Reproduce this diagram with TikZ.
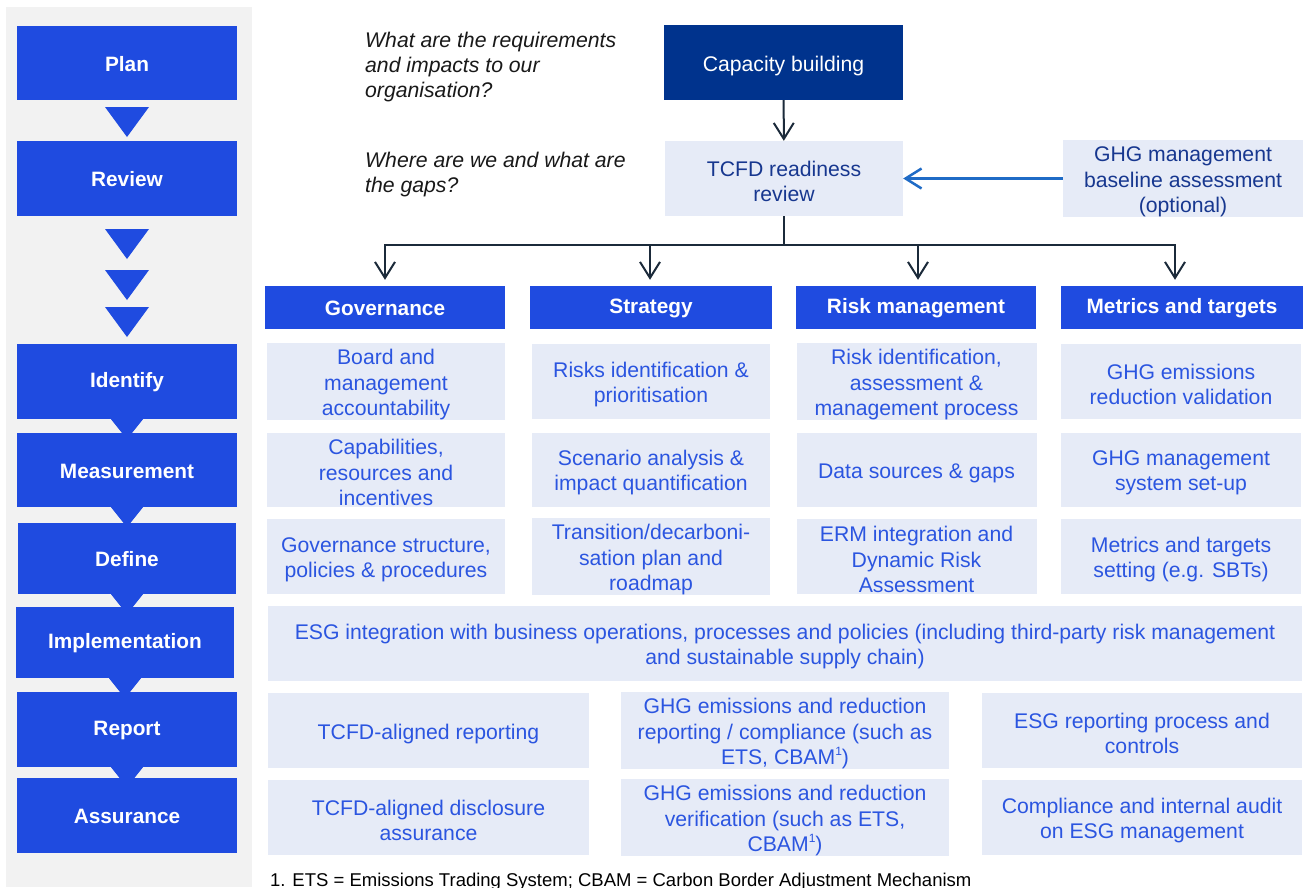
\documentclass[tikz,border=0pt]{standalone}
\usepackage{fontspec}
\setmainfont{Liberation Sans}
\usetikzlibrary{arrows.meta}
\definecolor{cBlue}{HTML}{1F4BE0}
\definecolor{cLight}{HTML}{E6EBF7}
\definecolor{cText}{HTML}{2B55E0}
\definecolor{cNavyText}{HTML}{17378F}
\definecolor{cCap}{HTML}{00338D}
\definecolor{cGrey}{HTML}{F2F2F2}
\definecolor{cConn}{HTML}{1B2A3A}
\definecolor{cArrowBlue}{HTML}{1F6BC6}
\newcommand{\supone}{\raisebox{0.42em}{\fontsize{12}{12}\selectfont 1}}
\newcommand{\tstrut}{\rule{0pt}{21.5pt}}
\begin{document}
\begin{tikzpicture}[x=1pt,y=-1pt,
  wh/.style 2 args={minimum width=#1, minimum height=#2},
  bluebox/.style={fill=cBlue, text=white, font=\fontsize{20.8}{25}\selectfont\bfseries, inner sep=0pt, align=center,
    execute at begin node={\rule{0pt}{17pt}}},
  lbox/.style={fill=cLight, text=cText, font=\fontsize{21.2}{25.4}\selectfont, inner sep=0pt, align=center},
  tbox/.style={lbox, text=cNavyText},
  capbox/.style={lbox, fill=cCap, text=white},
  qtext/.style={text=black!90, font=\fontsize{21.2}{25}\selectfont\itshape, inner sep=0pt, align=left, anchor=west},
  conn/.style={draw=cConn, line width=2pt},
  tip/.style={-{Straight Barb[length=16pt,width=20pt,line width=2pt]}},
  bluearrow/.style={draw=cArrowBlue, line width=2.5pt, -{Straight Barb[length=16pt,width=20pt,line width=2.5pt]}},
  tri/.style={fill=cBlue}
]
\useasboundingbox (0,0) rectangle (1310,887);
\fill[white] (0,0) rectangle (1310,887);
% left panel
\fill[cGrey] (6,7) rectangle (252,887);
\node[bluebox, wh={220}{74}] (plan) at (127,63) {Plan};
\node[bluebox, wh={220}{75}] (review) at (127,178.5) {Review};
\fill[tri] (105,107) -- (149,107) -- (127,137) -- cycle;
\fill[tri] (105,229) -- (149,229) -- (127,259) -- cycle;
\fill[tri] (105,270) -- (149,270) -- (127,300) -- cycle;
\fill[tri] (105,307) -- (149,307) -- (127,337) -- cycle;
\node[bluebox, wh={220}{75}] (identify) at (127,381.5) {Identify};
\node[bluebox, wh={220}{74}] (measure) at (127,470) {Measurement};
\node[bluebox, wh={218}{71}] (define) at (127,558.5) {Define};
\node[bluebox, wh={218}{71}] (implement) at (125,642.5) {Implementation};
\node[bluebox, wh={220}{75}] (report) at (127,729.5) {Report};
\node[bluebox, wh={220}{75}] (assure) at (127,815.5) {Assurance};
\foreach \b in {identify,measure,define,implement,report}{
  \fill[tri] ([xshift=-16pt]\b.south) -- ([xshift=16pt]\b.south) -- ([yshift=-20pt]\b.south) -- cycle;
}
% questions
\node[qtext] (q1) at (365,67) {What are the requirements\\and impacts to our\\organisation?};
\node[qtext] (q2) at (365,174.5) {Where are we and what are\\the gaps?};
% top
\node[capbox, wh={239}{75}] (cap) at (783.5,62.5) {\tstrut Capacity building};
\node[tbox, wh={238}{75}] (tcfd) at (784,178.5) {\tstrut TCFD readiness\\review};
\node[tbox, wh={240}{75}] (ghgb) at (1183,178.5) {\tstrut GHG management\\baseline assessment\\(optional)};
\draw[conn, tip] (cap) -- (tcfd);
\draw[bluearrow] (ghgb) -- (tcfd);
% headers
\node[bluebox, wh={240}{43}] (gov) at (385,307.5) {Governance};
\node[bluebox, wh={242}{43}] (strat) at (651,307.5) {Strategy};
\node[bluebox, wh={240}{43}] (risk) at (916,307.5) {Risk management};
\node[bluebox, wh={242}{43}] (met) at (1182,307.5) {Metrics and targets};
\coordinate (ja) at (385,245);
\coordinate (jb) at (650,245);
\coordinate (jc) at (918,245);
\coordinate (jd) at (1175,245);
\draw[conn] (tcfd.south) -- (tcfd.south |- ja);
\draw[conn, line cap=rect] (ja) -- (jd);
\draw[conn, tip, shorten >=6pt] (ja) -- (ja |- gov.north);
\draw[conn, tip, shorten >=6pt] (jb) -- (jb |- strat.north);
\draw[conn, tip, shorten >=6pt] (jc) -- (jc |- risk.north);
\draw[conn, tip, shorten >=6pt] (jd) -- (jd |- met.north);
% grid
\node[lbox, wh={238}{75}] (g1) at (386,381.5) {\tstrut Board and\\management\\accountability};
\node[lbox, wh={238}{74}] (g2) at (386,469.5) {\tstrut Capabilities,\\resources and\\incentives};
\node[lbox, wh={238}{75}] (g3) at (386,556.5) {\tstrut Governance structure,\\policies \& procedures};
\node[lbox, wh={238}{75}] (s1) at (651,381.5) {\tstrut Risks identification \&\\prioritisation};
\node[lbox, wh={238}{74}] (s2) at (651,469.5) {\tstrut Scenario analysis \&\\impact quantification};
\node[lbox, wh={238}{75}] (s3) at (651,556.5) {\tstrut Transition/decarboni-\\sation plan and\\roadmap};
\node[lbox, wh={240}{75}] (r1) at (916.5,381.5) {\tstrut Risk identification,\\assessment \&\\management process};
\node[lbox, wh={240}{74}] (r2) at (916.5,469.5) {\tstrut Data sources \& gaps};
\node[lbox, wh={240}{75}] (r3) at (916.5,556.5) {\tstrut ERM integration and\\Dynamic Risk\\Assessment};
\node[lbox, wh={240}{75}] (m1) at (1181,381.5) {\tstrut GHG emissions\\reduction validation};
\node[lbox, wh={240}{74}] (m2) at (1181,469.5) {\tstrut GHG management\\system set-up};
\node[lbox, wh={240}{75}] (m3) at (1181,556.5) {\tstrut Metrics and targets\\setting (e.g. SBTs)};
% implementation row
\node[lbox, wh={1034}{75}] (esg) at (785,643.5) {\tstrut ESG integration with business operations, processes and policies (including third-party risk management\\and sustainable supply chain)};
% report row
\node[lbox, wh={321}{75}] (rp1) at (428.5,730.5) {\tstrut TCFD-aligned reporting};
\node[lbox, wh={328}{75}] (rp2) at (785,730.5) {\tstrut GHG emissions and reduction\\reporting / compliance (such as\\ETS, CBAM\supone)};
\node[lbox, wh={320}{75}] (rp3) at (1142,730.5) {\tstrut ESG reporting process and\\controls};
% assurance row
\node[lbox, wh={321}{75}] (as1) at (428.5,817.5) {\tstrut TCFD-aligned disclosure\\assurance};
\node[lbox, wh={328}{75}] (as2) at (785,817.5) {\tstrut GHG emissions and reduction\\verification (such as ETS,\\CBAM\supone)};
\node[lbox, wh={320}{75}] (as3) at (1142,817.5) {\tstrut Compliance and internal audit\\on ESG management};
% footnote
\node[anchor=base west, inner sep=0pt, font=\fontsize{18.5}{20}\selectfont, text=black] (fn) at (270,886) {1. ETS = Emissions Trading System; CBAM = Carbon Border Adjustment Mechanism};
\end{tikzpicture}
\end{document}
